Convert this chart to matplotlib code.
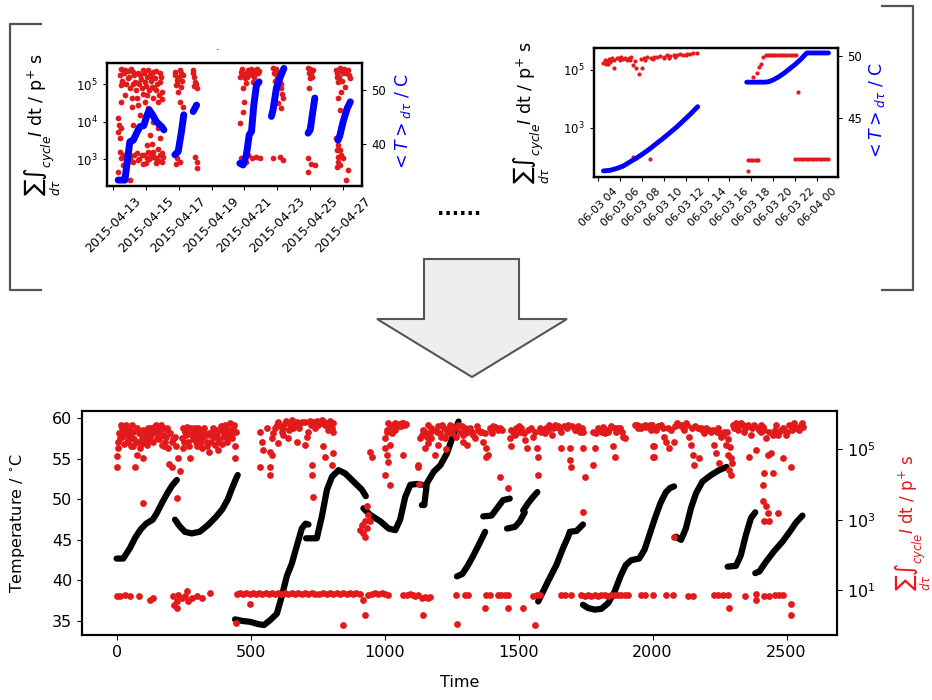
import datetime as dt
import numpy as np
import matplotlib
matplotlib.use('Agg')
import matplotlib.pyplot as plt
import matplotlib.dates as mdates
from matplotlib.patches import Polygon
from matplotlib.ticker import FixedLocator, NullLocator

RED = '#e31a1c'
BLUE = '#0000ff'
GREY = '#555555'

# ---------------- bottom panel: temperature (left) and dose (right, log10) ----------------
temp_segments = [
    [(0, 42.7), (25, 42.7), (50, 44.0), (70, 45.3), (90, 46.3), (110, 47.0), (135, 47.5),
     (150, 48.3), (170, 49.6), (190, 50.8), (207, 51.7), (225, 52.4)],
    [(218, 47.5), (235, 46.7), (255, 46.0), (280, 45.8), (310, 46.0), (340, 46.8), (370, 47.8),
     (395, 48.8), (415, 50.0), (430, 51.3), (445, 52.5), (452, 53.0)],
    [(442, 35.2), (470, 35.0), (498, 34.9), (530, 34.6), (550, 34.5), (573, 35.1), (598, 35.9),
     (616, 38.0), (635, 40.5), (654, 42.1), (672, 44.2), (691, 46.4), (705, 47.0), (716, 46.9)],
    [(707, 45.2), (747, 45.2), (766, 47.9), (785, 51.2), (804, 52.8), (828, 53.6), (853, 53.2),
     (884, 52.2), (915, 51.2), (930, 50.4)],
    [(921, 48.9), (946, 48.1), (984, 47.3), (1015, 46.4), (1040, 46.2), (1058, 47.5), (1077, 50.3),
     (1096, 51.8), (1121, 51.9), (1139, 51.8)],
    [(1139, 49.3), (1148, 49.3), (1158, 52.0), (1183, 53.4), (1208, 54.2), (1233, 55.7),
     (1258, 58.1), (1276, 59.6)],
    [(1270, 40.5), (1290, 40.8), (1310, 41.8), (1330, 43.0), (1350, 44.3), (1365, 45.3), (1375, 46.0)],
    [(1368, 47.9), (1399, 48.0), (1424, 49.1), (1442, 49.9), (1467, 50.1)],
    [(1457, 46.4), (1486, 46.6), (1505, 47.3), (1523, 48.4)],
    [(1517, 48.6), (1535, 49.5), (1554, 50.3), (1570, 50.9)],
    [(1573, 37.4), (1610, 39.9), (1641, 41.9), (1666, 44.0), (1685, 45.4), (1691, 46.0),
     (1716, 46.1), (1740, 46.9)],
    [(1740, 37.0), (1759, 36.6), (1784, 36.4), (1809, 36.5), (1834, 37.2), (1858, 38.6),
     (1880, 40.5), (1900, 41.9), (1920, 42.5), (1950, 42.7), (1970, 43.8), (1990, 45.8),
     (2010, 47.8), (2030, 49.6), (2050, 50.9), (2065, 51.4), (2080, 51.6)],
    [(2087, 45.4), (2106, 45.0), (2124, 46.4), (2143, 48.9), (2162, 50.75), (2186, 52.2),
     (2218, 53.0), (2248, 53.6), (2276, 54.0)],
    [(2280, 41.7), (2311, 41.8), (2329, 43.1), (2348, 45.6), (2367, 47.7), (2383, 48.4)],
    [(2383, 40.9), (2398, 41.1), (2423, 42.3), (2453, 43.6), (2485, 44.8), (2516, 46.2),
     (2534, 47.1), (2559, 48.0)],
]

# dose points as (time, log10 dose)
dose_high = [
    (0, 4.80), (1, 4.51), (7, 5.03), (13, 5.31), (20, 5.60), (26, 5.50), (32, 5.64), (38, 5.40),
    (44, 5.22), (51, 5.55), (57, 5.31), (57, 5.69), (63, 5.08), (69, 4.51), (75, 4.84), (82, 5.22),
    (88, 5.03), (94, 5.31), (100, 4.75), (107, 5.50), (113, 5.12), (119, 5.60), (125, 5.36),
    (132, 5.45), (138, 5.64), (150, 5.31), (156, 5.64), (163, 5.55), (169, 5.12), (175, 5.40),
    (181, 5.22), (187, 5.55), (193, 5.03), (196, 4.58), (206, 5.22), (208, 4.51), (218, 5.36),
    (231, 4.75), (237, 4.37),
    (243, 5.31), (249, 5.03), (255, 5.50), (262, 5.64), (268, 5.22), (274, 4.75), (280, 5.40),
    (293, 5.60), (299, 5.08), (305, 5.31), (318, 5.03), (324, 5.50), (336, 5.22), (343, 4.93),
    (349, 5.40), (361, 5.60), (367, 5.12), (373, 5.31), (380, 4.98), (392, 5.55), (398, 5.36),
    (404, 5.69), (411, 5.22), (417, 5.50), (423, 5.74), (429, 5.31), (436, 5.64), (442, 5.08),
    (442, 4.75),
    (535, 5.50), (541, 5.22), (548, 4.98), (560, 5.60), (572, 4.93), (579, 5.31), (535, 4.51),
    (572, 4.51), (572, 4.27), (591, 5.60), (603, 5.78), (616, 5.50), (628, 5.74), (641, 5.31),
    (653, 5.83), (666, 5.69), (672, 5.22), (647, 5.69), (603, 5.17), (579, 4.84), (685, 5.74),
    (680, 5.60),
    (703, 5.78), (715, 5.50), (703, 5.12), (709, 5.36), (734, 5.78), (753, 5.69), (765, 5.83),
    (784, 5.74), (803, 5.60), (809, 5.50), (772, 5.08), (778, 4.79), (728, 4.55), (728, 4.27),
    (803, 4.55), (809, 4.88), (740, 5.60), (790, 5.70),
    (945, 4.93), (952, 4.79), (1002, 4.27), (1008, 4.84), (1014, 4.65), (1070, 4.84),
    (1002, 5.31), (1008, 5.55), (1014, 5.74), (1027, 5.45), (1045, 5.69), (1064, 5.74),
    (1076, 5.69), (1021, 5.12), (1002, 5.03), (1035, 5.60), (1055, 5.65),
    (1126, 4.56), (1132, 5.31), (1144, 5.55), (1151, 5.03), (1163, 5.69), (1175, 5.31),
    (1188, 4.84), (1194, 5.50), (1213, 5.69), (1225, 5.31), (1238, 5.55), (1256, 5.64),
    (1268, 5.36), (1281, 5.50), (1293, 5.22), (1299, 5.60), (1200, 5.12), (1163, 5.17),
    (1126, 4.51), (1250, 5.45), (1230, 5.00), (1175, 5.60), (1210, 5.35),
    (1293, 5.41), (1306, 5.12), (1318, 5.60), (1337, 5.31), (1355, 5.50), (1368, 5.22),
    (1380, 5.03), (1386, 4.84), (1393, 5.60), (1411, 5.64), (1424, 5.55), (1380, 4.79),
    (1345, 5.65), (1400, 5.45),
    (1467, 5.31), (1473, 5.08), (1486, 5.41), (1505, 5.50), (1523, 5.26), (1536, 5.55),
    (1554, 5.36), (1567, 5.03), (1573, 4.79), (1573, 4.27), (1585, 5.50), (1604, 5.60),
    (1623, 5.41), (1641, 5.64), (1660, 5.50), (1660, 5.03), (1679, 5.60), (1691, 5.03),
    (1691, 4.70), (1697, 4.51), (1710, 5.55), (1729, 5.50), (1741, 5.03), (1747, 4.22),
    (1530, 5.03), (1500, 5.65), (1615, 5.70), (1650, 5.60), (1720, 5.65),
    (1778, 5.50), (1784, 5.03), (1778, 4.56), (1797, 5.60), (1815, 5.64), (1834, 5.50),
    (1852, 5.08), (1859, 4.79), (1871, 5.60), (1890, 5.36), (1896, 5.31), (1825, 5.55),
    (1845, 5.65),
    (1933, 5.69), (1958, 5.60), (1976, 5.64), (1995, 5.55), (2001, 5.08), (2001, 4.79),
    (1945, 5.60), (1965, 5.65), (1999, 5.69), (2012, 5.55), (2031, 5.69), (2044, 5.36),
    (2007, 5.08), (2007, 4.79), (2050, 5.22), (2063, 5.03), (2081, 5.22), (2100, 5.69),
    (2118, 5.55), (2125, 5.74), (2137, 5.36), (2143, 5.12), (2150, 4.84), (2156, 4.55),
    (2174, 4.75), (2168, 5.60), (2193, 5.45), (2218, 5.50), (2230, 5.12), (2237, 4.88),
    (2249, 4.60), (2255, 5.36), (2268, 5.50), (2274, 5.12), (2280, 4.84), (2286, 4.41),
    (2293, 4.27), (2205, 5.55), (2240, 5.50), (2262, 5.40), (2160, 5.65), (2085, 5.65),
    (2299, 5.69), (2318, 5.55), (2330, 5.74), (2349, 5.64), (2361, 4.79), (2367, 5.41),
    (2386, 4.98), (2392, 5.60), (2411, 5.64), (2423, 5.31), (2430, 4.84), (2442, 4.88),
    (2448, 5.41), (2461, 5.69), (2479, 5.55), (2486, 4.75), (2498, 5.41), (2510, 5.69),
    (2517, 4.51), (2529, 5.74), (2541, 5.60), (2554, 5.69), (2560, 5.64), (2340, 5.50),
    (2405, 5.50), (2470, 5.50), (2520, 5.55),
]

# the dense part of the upper band
dose_band = [
    (5, 5.2), (10, 5.45), (16, 5.7), (22, 5.35), (28, 5.15), (35, 5.7), (41, 5.25), (47, 5.45),
    (54, 5.1), (60, 5.5), (66, 5.3), (72, 5.2), (78, 5.6), (85, 5.45), (91, 5.15), (97, 5.55),
    (103, 5.35), (110, 5.2), (116, 5.45), (122, 5.25), (128, 5.6), (135, 5.2), (141, 5.5),
    (147, 5.7), (153, 5.45), (160, 5.3), (166, 5.7), (172, 5.6), (178, 5.1), (184, 5.35),
    (190, 5.6), (200, 5.45), (212, 5.3), (222, 5.1),
    (246, 5.6), (252, 5.2), (258, 5.4), (265, 5.45), (271, 5.1), (277, 5.6), (286, 5.3),
    (290, 5.45), (296, 5.2), (302, 5.6), (309, 5.45), (314, 5.2), (321, 5.35), (327, 5.6),
    (333, 5.4), (339, 5.1), (346, 5.45), (352, 5.2), (358, 5.5), (364, 5.35), (370, 5.55),
    (376, 5.45), (383, 5.2), (389, 5.65), (395, 5.15), (401, 5.45), (408, 5.6), (414, 5.35),
    (420, 5.4), (426, 5.55), (432, 5.45), (439, 5.7), (445, 5.5),
    (585, 5.45), (597, 5.7), (609, 5.65), (622, 5.6), (634, 5.8), (645, 5.55), (659, 5.75),
    (672, 5.78), (678, 5.7), (690, 5.78), (660, 5.6), (620, 5.4),
    (720, 5.8), (727, 5.7), (746, 5.8), (758, 5.75), (771, 5.8), (778, 5.7), (796, 5.8),
    (800, 5.7), (806, 5.75), (790, 5.55),
    (1010, 5.5), (1020, 5.6), (1030, 5.7), (1040, 5.75), (1050, 5.72), (1060, 5.65),
    (1070, 5.75), (1080, 5.72), (1040, 5.55),
    (1138, 5.4), (1150, 5.5), (1157, 5.35), (1170, 5.45), (1182, 5.55), (1198, 5.65),
    (1206, 5.45), (1220, 5.6), (1232, 5.45), (1244, 5.7), (1262, 5.6), (1275, 5.7),
    (1287, 5.65), (1300, 5.45), (1312, 5.5), (1325, 5.5), (1331, 5.4), (1350, 5.55),
    (1362, 5.5), (1374, 5.45), (1398, 5.55), (1405, 5.65), (1418, 5.6), (1430, 5.6),
    (1437, 5.55),
    (1470, 5.55), (1480, 5.5), (1492, 5.6), (1510, 5.6), (1520, 5.45), (1545, 5.6),
    (1560, 5.5), (1578, 5.6), (1592, 5.55), (1598, 5.45), (1610, 5.55), (1628, 5.6),
    (1635, 5.7), (1648, 5.65), (1668, 5.65), (1685, 5.7), (1700, 5.65), (1715, 5.55),
    (1735, 5.6), (1742, 5.5),
    (1790, 5.45), (1803, 5.55), (1810, 5.5), (1822, 5.45), (1840, 5.6), (1858, 5.6),
    (1865, 5.5), (1878, 5.6), (1885, 5.5),
    (1940, 5.7), (1950, 5.65), (1970, 5.7), (1985, 5.65), (1990, 5.7), (2005, 5.6),
    (2020, 5.65), (2037, 5.6), (2057, 5.6), (2070, 5.55), (2090, 5.75), (2108, 5.7),
    (2113, 5.6), (2130, 5.7), (2146, 5.6), (2180, 5.6), (2186, 5.55), (2200, 5.6),
    (2212, 5.55), (2224, 5.55), (2245, 5.6), (2250, 5.45), (2278, 5.5), (2283, 5.3),
    (2289, 5.05), (2292, 4.75), (2296, 4.6),
    (2305, 5.6), (2312, 5.75), (2324, 5.7), (2336, 5.7), (2343, 5.6), (2355, 5.7),
    (2372, 5.6), (2380, 5.7), (2398, 5.55), (2405, 5.7), (2417, 5.55), (2435, 5.5),
    (2455, 5.55), (2467, 5.4), (2485, 5.6), (2492, 5.55), (2503, 5.5), (2523, 5.7),
    (2535, 5.6), (2547, 5.55), (2557, 5.75),
]

dose_mid = [
    (100, 3.47), (224, 3.61), (734, 3.65), (1021, 3.99), (1127, 4.00), (1430, 4.22),
    (1461, 3.89), (1741, 3.23), (2081, 2.52),
    (933, 3.38), (939, 3.14), (927, 2.95), (915, 2.86), (908, 2.71), (921, 2.62), (927, 2.52),
    (946, 2.95), (933, 2.76),
    (2417, 4.32), (2448, 4.32), (2411, 3.99), (2411, 3.52), (2423, 3.38), (2430, 3.19),
    (2417, 2.95), (2436, 2.95), (2467, 3.19),
]

dose_low = [
    (0, 0.82), (13, 0.82), (32, 0.85), (51, 0.84), (82, 0.82), (125, 0.73), (137, 0.78),
    (212, 0.82), (215, 0.59), (224, 0.68), (225, 0.50), (231, 0.87), (243, 0.78), (255, 0.82),
    (262, 0.98), (268, 0.68), (280, 0.78), (299, 0.82), (318, 0.78), (349, 0.92),
    (448, 0.90), (460, 0.92), (472, 0.90), (484, 0.92), (496, 0.90), (508, 0.92), (520, 0.90),
    (532, 0.92), (544, 0.90), (556, 0.92), (568, 0.90), (580, 0.92), (592, 0.90),
    (603, 0.92), (615, 0.90), (628, 0.92), (640, 0.90), (653, 0.92), (666, 0.90), (678, 0.92),
    (690, 0.90), (703, 0.92), (715, 0.90), (728, 0.92), (740, 0.90), (755, 0.88),
    (772, 0.92), (784, 0.90), (797, 0.92), (809, 0.90), (822, 0.92), (834, 0.90), (846, 0.92),
    (858, 0.90), (870, 0.92), (883, 0.90), (895, 0.92), (908, 0.90),
    (921, 0.73), (939, 0.87), (952, 0.90), (964, 0.92), (977, 0.90), (989, 0.92), (1002, 0.90),
    (1014, 0.87),
    (1070, 0.87), (1082, 0.87), (1094, 0.90), (1106, 0.87), (1113, 0.82), (1125, 0.85),
    (1138, 0.78), (1150, 0.80), (1163, 0.78), (1169, 0.80),
    (1268, 0.87), (1299, 0.87), (1312, 0.87), (1380, 0.87), (1393, 0.87), (1424, 0.87),
    (1436, 0.87), (1449, 0.87), (1461, 0.87),
    (1554, 0.82), (1567, 0.87), (1578, 0.85), (1660, 0.87), (1672, 0.87), (1697, 0.87),
    (1734, 0.87), (1747, 0.82), (1759, 0.85), (1772, 0.82), (1784, 0.87), (1797, 0.82),
    (1809, 0.85), (1822, 0.87), (1834, 0.82), (1846, 0.87), (1859, 0.85), (1871, 0.87),
    (1883, 0.85), (1896, 0.87), (1908, 0.85), (1958, 0.87), (1970, 0.87), (2001, 0.87),
    (2050, 0.85), (2075, 0.87), (2131, 0.84), (2150, 0.84), (2230, 0.87), (2243, 0.87),
    (2262, 0.87), (2280, 0.87), (2343, 0.84), (2386, 0.89), (2386, 0.73), (2417, 0.84),
    (2436, 0.84), (2455, 0.87), (2473, 0.87), (2486, 0.87),
    (445, 0.07), (498, 0.60), (846, 0.02), (927, 0.30), (1144, 0.30), (1270, 0.03),
    (1374, 0.49), (1461, 0.49), (1517, 0.49), (1561, 0.02), (2286, 0.49), (2517, 0.60),
    (2517, 0.30),
]

main_xticks = [0, 500, 1000, 1500, 2000, 2500]
main_yticks = [35, 40, 45, 50, 55, 60]
main_dose_ticks = [1e1, 1e3, 1e5]

# ---------------- top-left inset: days after 2015-04-13 ----------------
tl_start = dt.datetime(2015, 4, 13)
tl_tick_days = [0, 2, 4, 6, 8, 10, 12, 14]
tl_temp_segments = [
    [(0.32, 33.3), (0.73, 33.3), (0.87, 36.7), (1.03, 40.4), (1.24, 40.7), (1.44, 42.0),
     (1.64, 43.2), (1.88, 43.4), (2.05, 45.1), (2.21, 46.3), (2.41, 45.4), (2.65, 44.1),
     (2.96, 43.2), (3.10, 42.6)],
    [(3.77, 38.0), (3.97, 38.6), (4.17, 42.3), (4.31, 45.4)],
    [(4.88, 46.0), (5.09, 47.2)],
    [(7.72, 36.4), (7.92, 36.1), (8.12, 38.0), (8.29, 41.7), (8.43, 42.3), (8.57, 47.2),
     (8.73, 50.9), (8.89, 51.5)],
    [(9.64, 45.1), (9.74, 46.3), (9.94, 50.3), (10.15, 52.2), (10.40, 54.0)],
    [(11.87, 42.0), (12.00, 42.6), (12.13, 45.4), (12.28, 48.5)],
    [(13.69, 40.7), (13.80, 41.5), (14.00, 44.1), (14.25, 46.6), (14.44, 47.8)],
]
tl_dose = [
    (0.42, 5.25), (0.52, 4.98), (0.62, 5.39), (0.73, 4.71), (0.94, 5.16), (1.03, 4.89),
    (1.24, 5.34), (1.34, 5.07), (1.44, 4.62), (1.64, 5.25), (1.74, 4.89), (1.84, 5.39),
    (1.94, 5.07), (2.05, 4.71), (2.25, 5.25), (2.35, 4.93), (2.45, 4.62), (2.55, 5.16),
    (2.65, 4.84), (2.76, 4.53), (2.86, 5.07), (2.96, 4.80), (1.54, 4.44), (2.15, 4.36),
    (2.45, 4.00), (2.76, 3.82), (1.64, 4.18), (0.32, 4.09), (0.38, 3.91), (0.32, 3.73),
    (0.42, 3.55), (0.52, 3.82), (1.14, 4.40), (1.24, 3.91), (2.25, 3.64), (2.05, 3.37),
    (2.86, 3.55), (2.35, 3.41), (0.42, 3.19), (0.52, 3.02), (0.32, 2.66), (0.62, 2.84),
    (1.03, 3.06), (1.44, 3.15), (1.54, 2.97), (1.74, 3.10), (2.05, 3.02), (2.25, 3.15),
    (2.35, 3.06), (2.65, 3.02), (2.86, 3.10), (2.96, 2.93), (3.06, 3.06), (1.84, 2.88),
    (1.03, 2.43), (2.15, 3.19), (1.24, 2.93), (2.45, 3.19), (2.76, 3.28), (0.73, 5.39),
    (2.15, 5.39), (2.45, 5.34), (2.86, 5.30), (1.54, 5.03), (1.14, 4.62), (1.94, 4.53),
    (0.52, 4.53),
    (0.47, 5.40), (0.57, 5.10), (0.68, 5.30), (0.80, 5.00), (0.90, 5.35), (1.00, 5.20),
    (1.10, 5.40), (1.20, 5.00), (1.30, 5.25), (1.40, 4.85), (1.50, 5.30), (1.60, 5.00),
    (1.70, 5.15), (1.80, 4.75), (1.90, 5.30), (2.00, 4.95), (2.10, 5.20), (2.20, 4.85),
    (2.30, 5.10), (2.40, 5.20), (2.50, 4.90), (2.60, 5.35), (2.70, 5.00), (2.80, 4.70),
    (2.90, 5.20), (3.00, 4.60),
    (0.60, 3.10), (0.80, 3.00), (0.90, 3.15), (1.10, 2.95), (1.30, 3.10), (1.60, 3.00),
    (1.90, 3.10), (2.00, 2.90), (2.20, 3.00), (2.50, 3.05), (2.60, 2.90), (2.80, 2.95),
    (3.00, 3.15),
    (3.77, 5.34), (3.87, 5.12), (4.07, 5.39), (4.17, 4.93), (3.97, 4.80), (4.27, 5.25),
    (3.83, 4.98), (4.07, 4.53), (4.27, 4.40), (4.88, 5.30), (4.98, 5.07), (5.09, 4.89),
    (4.88, 5.39), (3.87, 3.02), (4.07, 2.93), (4.98, 3.06), (5.09, 2.93), (5.09, 2.75),
    (3.83, 2.88), (3.80, 5.25), (3.92, 5.00), (4.02, 5.20), (4.12, 5.30), (4.20, 5.10),
    (4.93, 5.20), (5.03, 5.00), (4.93, 4.95),
    (7.82, 5.34), (8.02, 5.16), (8.22, 5.39), (8.43, 5.25), (8.63, 5.39), (8.83, 5.30),
    (8.12, 5.03), (8.53, 5.07), (7.92, 4.89), (7.99, 4.53), (7.92, 4.27), (7.72, 3.96),
    (7.82, 3.02), (8.12, 2.93), (8.43, 3.02), (8.73, 3.06), (8.93, 3.02), (8.22, 3.10),
    (7.75, 5.20), (7.87, 5.40), (7.97, 5.25), (8.07, 5.30), (8.17, 5.20), (8.30, 5.30),
    (8.40, 5.40), (8.50, 5.30), (8.60, 5.20), (8.70, 5.30), (8.78, 5.40), (8.88, 5.35),
    (9.74, 5.43), (9.94, 5.30), (10.15, 5.07), (10.25, 4.89), (10.35, 4.62), (10.05, 4.49),
    (10.25, 4.36), (9.74, 3.02), (10.15, 3.06), (10.35, 2.97), (9.80, 5.30), (9.85, 5.10),
    (9.90, 5.40), (10.00, 5.20), (10.10, 5.30), (10.20, 5.00), (10.30, 4.75),
    (11.87, 5.43), (12.07, 5.30), (12.18, 5.39), (11.97, 5.16), (11.93, 4.89), (11.87, 3.02),
    (12.07, 2.88), (12.28, 2.84), (11.87, 2.66), (11.90, 5.30), (12.00, 5.40), (12.10, 5.20),
    (13.59, 5.39), (13.79, 5.43), (14.00, 5.30), (14.30, 5.39), (14.40, 5.16), (13.69, 5.07),
    (14.10, 4.93), (13.89, 4.80), (13.69, 4.62), (13.79, 4.31), (13.59, 3.55), (13.69, 3.37),
    (13.79, 3.24), (13.89, 3.10), (14.00, 3.02), (13.69, 2.93), (14.30, 2.70), (14.15, 2.43),
    (13.60, 5.20), (13.65, 5.30), (13.75, 5.20), (13.85, 5.35), (13.95, 5.10), (14.05, 5.40),
    (14.20, 5.30), (14.35, 5.25), (13.62, 2.80), (13.72, 3.05), (13.82, 2.85), (13.65, 3.25),
]

# ---------------- top-right inset: hours after 06-03 00:00 ----------------
tr_start = dt.datetime(2015, 6, 3)
tr_tick_hours = [4, 6, 8, 10, 12, 14, 16, 18, 20, 22, 24]
tr_temp_segments = [
    [(4.49, 40.75), (5.10, 40.80), (5.71, 40.95), (6.31, 41.15), (6.92, 41.48), (7.53, 41.80),
     (8.14, 42.16), (8.75, 42.55), (9.36, 42.98), (9.97, 43.40), (10.58, 43.85),
     (11.19, 44.30), (11.79, 44.80), (12.45, 45.35), (13.10, 45.94)],
    [(17.58, 47.92), (19.20, 47.92), (19.56, 47.95), (20.00, 48.10), (20.50, 48.35),
     (21.00, 48.65), (21.50, 49.00), (22.00, 49.35), (22.50, 49.75), (23.07, 50.28),
     (25.05, 50.28)],
]
tr_dose = [
    (4.49, 5.25), (4.6, 5.35), (4.7, 5.22), (4.8, 5.30), (4.9, 5.20), (5.0, 5.38), (5.1, 5.28),
    (5.2, 5.33), (5.3, 5.40), (5.47, 5.06), (5.5, 5.36), (5.7, 5.42), (5.9, 5.40), (6.0, 5.33),
    (6.1, 5.45), (6.3, 5.38), (6.5, 5.42), (6.6, 5.33), (6.8, 5.40), (6.9, 5.35), (7.0, 5.44),
    (7.2, 5.17), (7.4, 5.30), (7.5, 5.08), (7.7, 4.85), (7.9, 5.38), (8.0, 5.06), (8.2, 5.40),
    (8.3, 5.35), (8.5, 5.44), (8.8, 5.42), (9.0, 5.38), (9.1, 5.46), (9.4, 5.44), (9.7, 5.48),
    (10.0, 5.46), (10.0, 5.42), (10.3, 5.50), (10.5, 5.40), (10.6, 5.48), (10.9, 5.52),
    (11.0, 5.45), (11.2, 5.50), (11.5, 5.55), (11.8, 5.52), (12.0, 5.50), (12.1, 5.56),
    (12.4, 5.55), (12.7, 5.57), (13.0, 5.57),
    (18.2, 4.77), (18.5, 4.90), (18.7, 5.10), (18.9, 5.20), (19.1, 5.46), (19.3, 5.52),
    (19.5, 5.52), (19.7, 5.52), (19.9, 5.53), (20.1, 5.52), (20.3, 5.53), (20.5, 5.52),
    (20.7, 5.53), (20.9, 5.52), (21.1, 5.53), (21.3, 5.52), (21.5, 5.53), (21.7, 5.52),
    (21.9, 5.51), (22.05, 5.50),
    (22.3, 4.25), (7.2, 1.99), (8.75, 1.90),
    (17.73, 1.875), (17.9, 1.88), (18.1, 1.875), (18.3, 1.88), (18.5, 1.875), (18.64, 1.88),
    (17.73, 1.49),
    (22.0, 1.93), (22.25, 1.93), (22.5, 1.93), (22.75, 1.93), (23.0, 1.93), (23.25, 1.93),
    (23.5, 1.93), (23.75, 1.93), (24.0, 1.93), (24.25, 1.93), (24.5, 1.93), (24.75, 1.93),
    (25.0, 1.93),
]

dose_label = r'$\sum_{d\tau}\int_{cycle}I$ dt / p$^{+}$ s'
temp_label_inset = r'$<T>_{d\tau}$ / C'

W, H = 932, 700


def box(l, t, r, b):
    return [l / W, 1 - b / H, (r - l) / W, (b - t) / H]


def style_spines(ax, lw):
    for sp in ax.spines.values():
        sp.set_linewidth(lw)


fig = plt.figure(figsize=(W / 100, H / 100), dpi=100)

# decorations: brackets, dots, arrow (pixel coordinates)
ov = fig.add_axes([0, 0, 1, 1])
ov.set_xlim(0, W)
ov.set_ylim(H, 0)
ov.axis('off')
ov.plot([41, 10, 10, 41], [24, 24, 290, 290], color=GREY, lw=1.6)
ov.plot([882, 913, 913, 882], [6, 6, 290, 290], color=GREY, lw=1.6)
ov.text(459, 215, '......', ha='center', va='baseline', fontsize=14, fontweight='bold')
ov.add_patch(Polygon([(424, 259), (519, 259), (519, 319), (567, 319), (472, 377),
                      (377, 319), (424, 319)], closed=True, facecolor='#eeeeee',
                     edgecolor=GREY, lw=1.5))
ov.text(218, 50, '.', ha='center', va='baseline', fontsize=8)

# ---- top-left inset
a1 = fig.add_axes(box(107, 63, 362, 186))
d = np.array(tl_dose)
base1 = mdates.date2num(tl_start)
a1.scatter(base1 + d[:, 0], 10.0 ** d[:, 1], s=17, color=RED, lw=0)
a1.set_yscale('log')
a1.set_ylim(190, 3.7e5)
a1.yaxis.set_major_locator(FixedLocator([1e3, 1e4, 1e5]))
a1.yaxis.set_minor_locator(NullLocator())
a1.set_xlim(base1 - 0.36, base1 + 15.15)
a1.xaxis.set_major_locator(FixedLocator([base1 + v for v in tl_tick_days]))
a1.xaxis.set_major_formatter(mdates.DateFormatter('%Y-%m-%d'))
a1.tick_params(axis='x', labelrotation=45, labelsize=9, length=3)
a1.tick_params(axis='y', labelsize=8.5, length=3)
a1.set_ylabel(dose_label, fontsize=12.5)
a1.yaxis.set_label_coords(-0.173, 0.5)
a1b = a1.twinx()
for seg in tl_temp_segments:
    s = np.array(seg)
    a1b.plot(base1 + s[:, 0], s[:, 1], color=BLUE, lw=5, solid_capstyle='round')
a1b.set_ylim(32.2, 55)
a1b.yaxis.set_major_locator(FixedLocator([40, 50]))
a1b.tick_params(axis='y', labelsize=8.5, length=3)
a1b.set_ylabel(temp_label_inset, color=BLUE, fontsize=12.5)
a1b.yaxis.set_label_coords(1.122, 0.52)
style_spines(a1, 1.6)
style_spines(a1b, 1.6)

# ---- top-right inset
a2 = fig.add_axes(box(594, 48, 838, 177))
d = np.array(tr_dose)
base2 = mdates.date2num(tr_start)
a2.scatter(base2 + d[:, 0] / 24, 10.0 ** d[:, 1], s=9, color=RED, lw=0)
a2.set_yscale('log')
a2.set_ylim(19.5, 5.75e5)
a2.yaxis.set_major_locator(FixedLocator([1e3, 1e5]))
a2.yaxis.set_minor_locator(NullLocator())
a2.set_xlim(base2 + 3.63 / 24, base2 + 25.92 / 24)
a2.xaxis.set_major_locator(FixedLocator([base2 + h / 24 for h in tr_tick_hours]))
a2.xaxis.set_major_formatter(mdates.DateFormatter('%m-%d %H'))
a2.tick_params(axis='x', labelrotation=45, labelsize=8, length=3)
a2.tick_params(axis='y', labelsize=8.5, length=3)
a2.set_ylabel(dose_label, fontsize=12.5)
a2.yaxis.set_label_coords(-0.172, 0.5)
a2b = a2.twinx()
for seg in tr_temp_segments:
    s = np.array(seg)
    a2b.plot(base2 + s[:, 0] / 24, s[:, 1], color=BLUE, lw=3.5, solid_capstyle='round')
a2b.set_ylim(40.26, 50.68)
a2b.yaxis.set_major_locator(FixedLocator([45, 50]))
a2b.tick_params(axis='y', labelsize=8.5, length=3)
a2b.set_ylabel(temp_label_inset, color=BLUE, fontsize=12.5)
a2b.yaxis.set_label_coords(1.119, 0.51)
style_spines(a2, 1.6)
style_spines(a2b, 1.6)

# ---- bottom panel
ax = fig.add_axes(box(82, 411, 837, 635))
for seg in temp_segments:
    s = np.array(seg)
    ax.plot(s[:, 0], s[:, 1], color='black', lw=4.5, solid_capstyle='round',
            solid_joinstyle='round')
ax.set_xlim(-129, 2688)
ax.set_ylim(33.27, 60.9)
ax.set_xticks(main_xticks)
ax.set_yticks(main_yticks)
ax.tick_params(labelsize=11.5)
ax.set_ylabel(r'Temperature / $^{\circ}$C', fontsize=11.5)
ax.yaxis.set_label_coords(-0.073, 0.5)
ax.set_xlabel('Time', fontsize=11.5)
ax.xaxis.set_label_coords(0.5, -0.18)

ax2 = ax.twinx()
for group in (dose_high, dose_band, dose_mid, dose_low):
    g = np.array(group)
    ax2.scatter(g[:, 0], 10.0 ** g[:, 1], s=24, color=RED, lw=0)
ax2.set_yscale('log')
ax2.set_ylim(0.53, 1.22e6)
ax2.yaxis.set_major_locator(FixedLocator(main_dose_ticks))
ax2.yaxis.set_minor_locator(NullLocator())
ax2.tick_params(labelsize=11.5)
ax2.set_ylabel(dose_label, color=RED, fontsize=12)
ax2.yaxis.set_label_coords(1.074, 0.5)
style_spines(ax, 1.5)
style_spines(ax2, 1.5)

fig.savefig('out.png', dpi=100)
